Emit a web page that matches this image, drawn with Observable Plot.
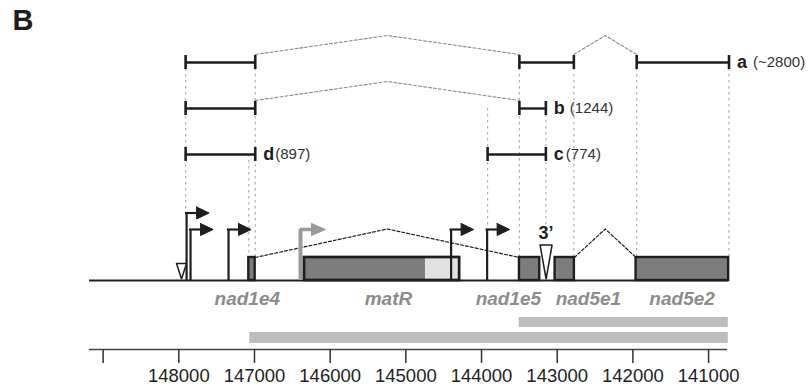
<!DOCTYPE html>
<html><head><meta charset="utf-8">
<script src="https://cdn.jsdelivr.net/npm/d3@7"></script>
<script src="https://cdn.jsdelivr.net/npm/@observablehq/plot@0.6"></script>
<style>body{margin:0;background:#fff}#chart{width:808px;height:386px}</style>
</head><body><div id="chart"></div>
<script>
// ---------------- data (genomic coordinates, bp) ----------------
const geneNames  = ["nad1e4", "matR", "nad1e5", "nad5e1", "nad5e2"];
const geneStart  = [147075, 146339, 143499, 143028, 141958];
const geneEnd    = [146991, 144290, 143231, 142773, 140735];
const geneLabelAt = [147095, 145230, 143645, 142588, 141350];
const matRLightStart = 144741;

const fragNames = ["a", "b", "c", "d"];
const fragSizes = ["(~2800)", "(1244)", "(774)", "(897)"];
const fragExons = [
  [[147910, 146990], [143500, 142780], [141950, 140730]],
  [[147910, 146990], [143500, 143150]],
  [[143920, 143150]],
  [[147910, 146990]]
];

const promoterPos   = [147897, 147845, 147343, 146392, 144402, 143926];
const promoterLevel = ["high", "low", "low", "low", "low", "low"];
const promoterGray  = [false, false, false, true, false, false];

const openTriPos  = [147964, 143147];
const openTriKind = ["small", "tall"];

const guidePos  = [147910, 146990, 147075, 143920, 143500, 143150, 142780, 141950, 140730];
const guideFrom = ["a", "a", "d", "b", "a", "b", "a", "a", "a"];
const guideTo   = ["arrowHigh", "box", "box", "arrow", "box", "label3", "box", "box", "box"];

const coverageStart = [143503, 147062];
const coverageEnd   = [140740, 140740];

const tickValues = [149000, 148000, 147000, 146000, 145000, 144000, 143000, 142000, 141000];
const tickLabels = ["", "148000", "147000", "146000", "145000", "144000", "143000", "142000", "141000"];

// ---------------- layout ----------------
const W = 808, H = 386;
const xDomain = [149180, 140750];
const xRange = [89, 727];
const bp = (xDomain[0] - xDomain[1]) / (xRange[1] - xRange[0]); // bp per px
const rowY = {a: 62, b: 108, c: 154, d: 154};
const levelY = {box: 257, arrow: 229, arrowHigh: 212, label3: 226, base: 280, high: 212.5, low: 229};
const FONT = "'Liberation Sans', Arial, Helvetica, sans-serif";
const dark = "#1e1e1e";

// fragments
const segs = [], caps = [], connectors = [], fragLab = [];
fragExons.forEach((ex, i) => {
  const y = rowY[fragNames[i]];
  ex.forEach(([s, e]) => {
    segs.push({x1: s, x2: e, y});
    caps.push({x: s, y}, {x: e, y});
  });
  if (fragNames[i] === "a" || fragNames[i] === "b") {
    for (let k = 0; k < ex.length - 1; k++) {
      const e1 = ex[k][1], s2 = ex[k + 1][0], mid = (e1 + s2) / 2;
      const id = fragNames[i] + k;
      connectors.push({x: e1, y: y - 8, id}, {x: mid, y: y - 27, id}, {x: s2, y: y - 8, id});
    }
  }
  const last = ex[ex.length - 1][1];
  fragLab.push({x: last, y, name: fragNames[i], size: fragSizes[i]});
});
const labWide = fragLab.filter(d => d.name === "a" || d.name === "b");
const labNarrow = fragLab.filter(d => d.name === "c" || d.name === "d");

// guides
const guides = guidePos.map((x, i) => ({x, y1: rowY[guideFrom[i]], y2: levelY[guideTo[i]]}));

// genes
const genes = geneNames.map((n, i) => ({name: n, x1: geneStart[i], x2: geneEnd[i], lab: geneLabelAt[i]}));
const introns = [];
[[0, 2], [3, 4]].forEach(([a, b], k) => {
  const e1 = geneEnd[a], s2 = geneStart[b], mid = (e1 + s2) / 2;
  introns.push({x: e1, y: levelY.box, id: k}, {x: mid, y: levelY.box - 28.5, id: k}, {x: s2, y: levelY.box, id: k});
});

// promoters
const stems = [], arms = [], heads = [];
promoterPos.forEach((p, i) => {
  const t = levelY[promoterLevel[i]];
  const gray = promoterGray[i];
  const baseOff = gray ? 11 : 10, tipOff = gray ? 25 : 22.5;
  stems.push({x: p, y1: t, y2: levelY.base, gray});
  arms.push({x1: p, x2: p - (baseOff + 1) * bp, y: t, gray});
  const id = "h" + i;
  heads.push(
    {x: p - baseOff * bp, y: t - 6, id, gray},
    {x: p - tipOff * bp, y: t, id, gray},
    {x: p - baseOff * bp, y: t + 6, id, gray},
    {x: p - baseOff * bp, y: t - 6, id, gray}
  );
});

// open triangles
const tris = [];
openTriPos.forEach((p, i) => {
  const tall = openTriKind[i] === "tall";
  const hw = tall ? 6 : 5, top = tall ? 244.5 : 263, bot = 278.5;
  const id = "t" + i;
  tris.push({x: p + hw * bp, y: top, id}, {x: p - hw * bp, y: top, id}, {x: p, y: bot, id}, {x: p + hw * bp, y: top, id});
});

const coverage = coverageStart.map((s, i) => ({x1: s, x2: coverageEnd[i], y1: i === 0 ? 317 : 332, y2: i === 0 ? 327 : 343}));
const ticks = tickValues.map((v, i) => ({v, label: tickLabels[i]}));

const chart = Plot.plot({
  width: W, height: H,
  marginTop: 0, marginRight: 0, marginBottom: 0, marginLeft: 0,
  x: {domain: xDomain, range: xRange, axis: null},
  y: {domain: [0, H], range: [0, H], axis: null},
  style: {fontFamily: FONT, background: "#fff"},
  marks: [
    // dotted guides
    Plot.ruleX(guides, {x: "x", y1: "y1", y2: "y2", stroke: "#b0b0b0", strokeWidth: 1.2, strokeDasharray: "2.5,3.5"}),
    // fragment connectors
    Plot.line(connectors, {x: "x", y: "y", z: "id", stroke: "#8a8a8a", strokeWidth: 1.1, strokeDasharray: "3,2", curve: "linear"}),
    // fragment segments
    Plot.ruleY(segs, {x1: "x1", x2: "x2", y: "y", stroke: dark, strokeWidth: 2.4}),
    Plot.ruleX(caps, {x: "x", y1: d => d.y - 7, y2: d => d.y + 7, stroke: dark, strokeWidth: 2.6}),
    Plot.text(fragLab, {x: "x", y: "y", text: "name", dx: 8, textAnchor: "start", fontWeight: "bold", fontSize: 18, fill: dark, lineAnchor: "middle"}),
    Plot.text(labWide, {x: "x", y: "y", text: "size", dx: 24, textAnchor: "start", fontSize: 15, fill: "#333", lineAnchor: "middle"}),
    Plot.text(labNarrow, {x: "x", y: "y", text: "size", dx: 20, textAnchor: "start", fontSize: 15, fill: "#333", lineAnchor: "middle"}),
    // baseline
    Plot.ruleY([levelY.base], {x1: xDomain[0], x2: geneEnd[geneEnd.length - 1], stroke: dark, strokeWidth: 2.2}),
    // introns
    Plot.line(introns, {x: "x", y: "y", z: "id", stroke: dark, strokeWidth: 1.2, strokeDasharray: "3,2"}),
    // gray promoter stem (behind genes)
    Plot.ruleX(stems.filter(d => d.gray), {x: "x", y1: "y1", y2: "y2", stroke: "#9a9a9a", strokeWidth: 4}),
    Plot.ruleY(arms.filter(d => d.gray), {x1: "x1", x2: "x2", y: "y", stroke: "#9a9a9a", strokeWidth: 3.5}),
    Plot.line(heads.filter(d => d.gray), {x: "x", y: "y", z: "id", fill: "#9a9a9a", stroke: "#9a9a9a", strokeWidth: 1}),
    // genes
    Plot.rect(genes, {x1: "x1", x2: "x2", y1: levelY.box, y2: levelY.base, fill: "#7d7d7d", stroke: dark, strokeWidth: 2.4}),
    Plot.rect([{x1: matRLightStart, x2: geneEnd[1]}], {x1: "x1", x2: d => d.x2 + 1.3 * bp, y1: levelY.box + 1.3, y2: levelY.base - 1.3, fill: "#e2e2e2"}),
    Plot.rect([genes[1]], {x1: "x1", x2: "x2", y1: levelY.box, y2: levelY.base, fill: "none", stroke: dark, strokeWidth: 2.4}),
    // black promoters
    Plot.ruleX(stems.filter(d => !d.gray), {x: "x", y1: "y1", y2: "y2", stroke: dark, strokeWidth: 2.2}),
    Plot.ruleY(arms.filter(d => !d.gray), {x1: d => d.x1 + 1.1 * bp, x2: "x2", y: "y", stroke: dark, strokeWidth: 2.2}),
    Plot.line(heads.filter(d => !d.gray), {x: "x", y: "y", z: "id", fill: dark, stroke: dark, strokeWidth: 1}),
    // open triangles
    Plot.line(tris, {x: "x", y: "y", z: "id", fill: "#fff", stroke: dark, strokeWidth: 1.5, strokeLinejoin: "miter"}),
    Plot.text(["3\u2019"], {x: openTriPos[1], y: 233, text: d => d, fontWeight: "bold", fontSize: 18, fill: dark, lineAnchor: "middle"}),
    // gene labels
    Plot.text(genes, {x: "lab", y: 298, text: "name", fontWeight: "bold", fontStyle: "italic", fontSize: 19, fill: "#8c8c8c", lineAnchor: "middle"}),
    // coverage bars
    Plot.rect(coverage, {x1: "x1", x2: "x2", y1: "y1", y2: "y2", fill: "#bdbdbd"}),
    // axis
    Plot.ruleY([349], {x1: xDomain[0], x2: xDomain[1], stroke: "#444", strokeWidth: 1.5}),
    Plot.ruleX(ticks, {x: "v", y1: 349, y2: 363, stroke: "#333", strokeWidth: 1.5}),
    Plot.text(ticks, {x: "v", y: 376, text: "label", fontSize: 18.5, fill: "#222", lineAnchor: "middle"}),
    // panel letter
    Plot.text(["B"], {frameAnchor: "top-left", dx: 12, dy: 9, text: d => d, fontWeight: "bold", fontSize: 29, fill: dark, lineAnchor: "top"})
  ]
});
document.getElementById("chart").appendChild(chart);
</script>
</body></html>
